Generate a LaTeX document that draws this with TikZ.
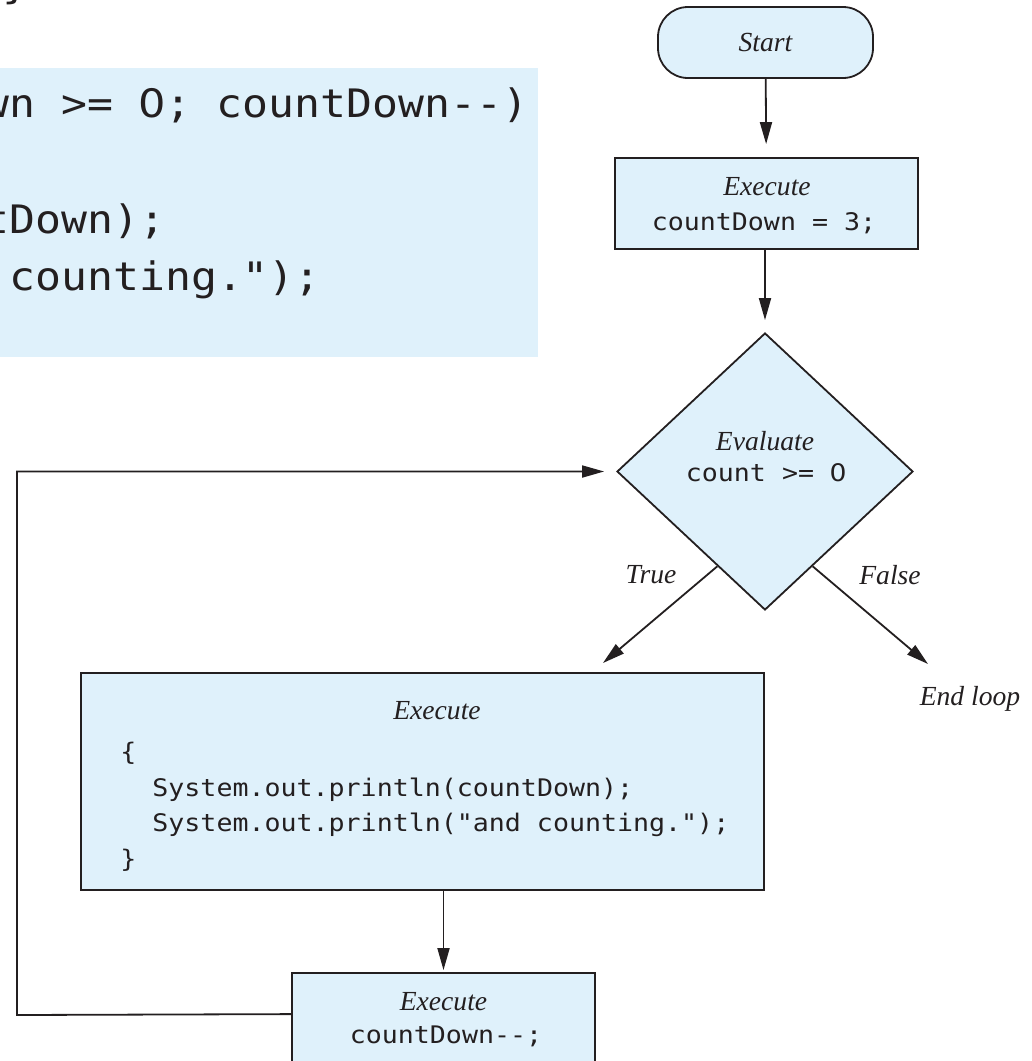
\documentclass[tikz,border=0pt]{standalone}
\usepackage{fontspec}
\setmainfont{Liberation Serif}
\newfontfamily\codefont[FakeStretch=1.1]{DejaVu Sans Mono}
\newfontfamily\zerofont[FakeStretch=1.1]{DejaVu Sans}
% a plain (undotted) zero set in the width of one code character
\newcommand\plainzero{\makebox[\fontcharwd\font`\0]{\zerofont 0}}
\usetikzlibrary{arrows.meta,shapes.geometric,calc}
\definecolor{boxfill}{RGB}{223,241,251}
\definecolor{ink}{RGB}{35,31,32}

\tikzset{
  flow/.style={draw=ink, line width=0.9pt, -{Triangle[length=11pt,width=6pt]}},
  boxshape/.style={draw=ink, fill=boxfill, line width=0.9pt, inner sep=0pt},
  lbl/.style={font=\fontsize{13.8}{16}\selectfont\itshape, text=ink, inner sep=0pt, anchor=base},
  code/.style={font=\fontsize{12.1}{14}\codefont, text=ink, inner sep=0pt, anchor=base},
  codeleft/.style={code, anchor=base west},
  bigcode/.style={font=\fontsize{19.6}{22}\codefont, text=ink, inner sep=0pt, anchor=base west},
}

\begin{document}
\begin{tikzpicture}[x=0.5pt,y=-0.5pt]
\useasboundingbox (0,0) rectangle (1032,1061);
\clip (0,0) rectangle (1032,1061);

% tail of the preceding listing
\node[bigcode] (prevbrace) at (2,-2) {\}};

% the for-loop listing
\node[fill=boxfill, inner sep=0pt, minimum width=269pt, minimum height=144.5pt, anchor=north west] (listing) at (0,68) {};
\node[bigcode] (l1) at (-718,117) {for (countDown = 3; countDown >= \plainzero; countDown-{}-)};
\node[bigcode] (l2) at (-718,175) {\{};
\node[bigcode] (l3) at (-614,233) {System.out.println(countDown);};
\node[bigcode] (l4) at (-614,290) {System.out.println("and counting.");};
\node[bigcode] (l5) at (-718,348) {\}};

% flowchart shapes
\node[boxshape, rounded corners=15pt, minimum width=107.5pt, minimum height=35.5pt] (start) at (765.5,42.5) {};
\node[boxshape, minimum width=151.5pt, minimum height=45.5pt] (init) at (766.5,203.5) {};
\node[boxshape, shape=diamond, minimum width=148pt, minimum height=138.5pt] (test) at (765,471.5) {};
\node[boxshape, minimum width=341.5pt, minimum height=108.5pt] (body) at (422.5,781.5) {};
\node[boxshape, minimum width=151.5pt, minimum height=50pt] (update) at (443.5,1023) {};

% texts in the shapes
\node[lbl] (starttxt) at (765.5,51) {Start};
\node[lbl] (inittxt) at (767,195) {Execute};
\node[code] (initcode) at (764,230) {countDown = 3;};
\node[lbl] (testtxt) at (765,450) {Evaluate};
\node[code] (testcode) at (766,481) {count >= \plainzero};
\node[lbl] (bodytxt) at (437,719) {Execute};
\node[codeleft] (b1) at (120,760) {\{};
\node[codeleft] (b2) at (152,796) {System.out.println(countDown);};
\node[codeleft] (b3) at (152,831.5) {System.out.println("and counting.");};
\node[codeleft] (b4) at (120,867) {\}};
\node[lbl] (updtxt) at (443.5,1010) {Execute};
\node[code] (updcode) at (446,1043) {countDown-{}-;};

% branch labels
\node[lbl] (truetxt) at (651,583) {True};
\node[lbl] (falsetxt) at (890,584) {False};
\node[lbl] (endtxt) at (970,705) {End loop};

% connectors
\coordinate (tstart) at ($(test.west)!0.68!(test.south)$);
\coordinate (tend) at (603,663);
\coordinate (fstart) at ($(test.east)!0.68!(test.south)$);
\coordinate (fend) at (928,664);
\coordinate (loopstart) at ($(update.north west)+(0,42)$);
\coordinate (loopcorner) at (17,1015);

\draw[flow, shorten >=6.5pt] (start) -- (init);
\draw[flow, shorten >=6pt] (init.south -| test.north) -- (test.north);
\draw[flow] (tstart) -- (tend);
\draw[flow] (fstart) -- (fend);
\draw[flow, shorten >=1pt] (body.south -| update.north) -- (update.north);
\draw[flow, shorten >=6pt] (loopstart) -- (loopcorner) |- (test.west);
\end{tikzpicture}
\end{document}
